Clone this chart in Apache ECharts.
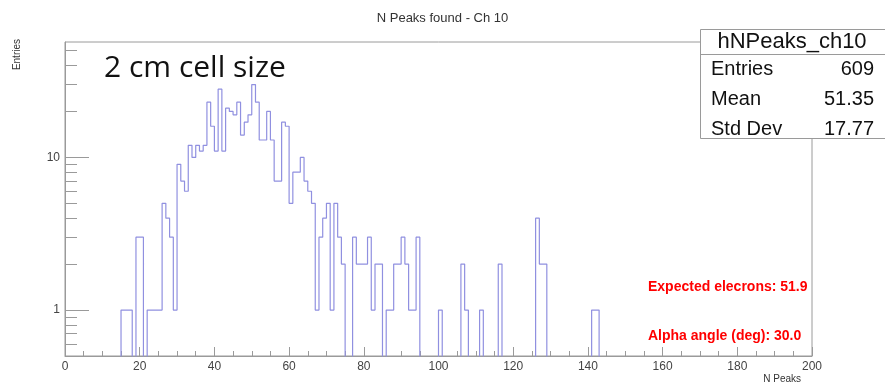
<!DOCTYPE html>
<html>
<head>
<meta charset="utf-8">
<title>N Peaks found - Ch 10</title>
<script src="https://cdn.jsdelivr.net/npm/echarts@6/dist/echarts.min.js"></script>
<style>
  html, body { margin: 0; padding: 0; background: #fff; }
  #chart { width: 885px; height: 384px; }
</style>
</head>
<body>
<div id="chart"></div>
<script>
// histogram contents, one bin per unit of N Peaks, first filled bin is 15
var firstBin = 15;
var counts = [
  1, 1, 1, 0, 3, 3, 0, 1, 1, 1,           // 15-24
  1, 5, 4, 3, 1, 9, 7, 6, 12, 10,         // 25-34
  12, 11, 12, 23, 16, 11, 28, 11, 21, 20, // 35-44
  19, 23, 14, 17, 19, 30, 23, 13, 13, 20, // 45-54
  13, 7, 7, 17, 16, 5, 8, 8, 10, 7,       // 55-64
  6, 5, 1, 3, 4, 5, 1, 5, 3, 2,           // 65-74
  0, 0, 3, 2, 2, 2, 3, 1, 2, 2,           // 75-84
  0, 1, 1, 2, 2, 3, 2, 1, 1, 3,           // 85-94
  0, 0, 0, 0, 0, 1, 0, 0, 0, 0,           // 95-104
  0, 2, 1, 0, 0, 0, 1, 0, 0, 0,           // 105-114
  0, 2, 0, 0, 0, 0, 0, 0, 0, 0,           // 115-124
  0, 4, 2, 2, 0, 0, 0, 0, 0, 0,           // 125-134
  0, 0, 0, 0, 0, 0, 1, 1                  // 135-142
];
var xMin = 0, xMax = 200;
var yMin = 0.5, yMax = 57;
var yLabels = [1, 10];
var yMinorTicks = [0.6, 0.7, 0.8, 0.9, 2, 3, 4, 5, 6, 7, 8, 9, 20, 30, 40, 50];
var statNames = ['Entries', 'Mean', 'Std Dev'];
var statValues = ['609', '51.35', '17.77'];
var notes = ['Expected elecrons: 51.9', 'Alpha angle (deg): 30.0'];

var frameColor = '#9a9a9a';
var textColor = '#444';

// step outline: left edge of each bin, empty bins pushed below the axis so they get clipped
var floorVal = 0.05;
var steps = [];
for (var b = xMin; b < xMax; b++) {
  var c = counts[b - firstBin];
  steps.push([b, c ? c : floorVal]);
}
steps.push([xMax, floorVal]);

var chart = echarts.init(document.getElementById('chart'));
var option = {
  animation: false,
  title: {
    text: 'N Peaks found - Ch 10',
    left: 'center',
    top: 7,
    textStyle: { fontFamily: 'Liberation Sans', fontSize: 13, fontWeight: 'normal', color: '#333' }
  },
  grid: {
    left: 65, right: 73, top: 42, bottom: 28,
    show: true, borderColor: frameColor, borderWidth: 1, backgroundColor: '#fff'
  },
  xAxis: {
    type: 'value',
    min: xMin, max: xMax, interval: 20,
    axisLine: { lineStyle: { color: frameColor } },
    axisTick: { inside: true, length: 9, lineStyle: { color: frameColor } },
    minorTick: { show: true, splitNumber: 4, length: 5, lineStyle: { color: frameColor } },
    axisLabel: { color: textColor, fontFamily: 'Liberation Sans', fontSize: 12, margin: 5 },
    splitLine: { show: false }
  },
  yAxis: [{
    type: 'log', logBase: 10,
    position: 'left',
    min: yMin, max: yMax,
    axisLine: { show: true, lineStyle: { color: frameColor } },
    axisTick: { show: true, inside: true, length: 24, customValues: yLabels, lineStyle: { color: frameColor } },
    axisLabel: {
      customValues: yLabels, color: textColor, fontFamily: 'Liberation Sans', fontSize: 12, margin: 5,
      formatter: function (v) { return String(Math.round(v)); }
    },
    splitLine: { show: false }
  }, {
    // minor ticks of the log axis, same place as the main one
    type: 'log', logBase: 10,
    position: 'left', offset: 0,
    min: yMin, max: yMax,
    axisLine: { show: false },
    axisTick: { show: true, inside: true, length: 12, customValues: yMinorTicks, lineStyle: { color: frameColor } },
    axisLabel: { show: false },
    splitLine: { show: false }
  }],
  series: [{
    type: 'line',
    step: 'end',
    data: steps,
    yAxisIndex: 0,
    symbol: 'none',
    clip: true,
    lineStyle: { color: '#9090e0', width: 1.2 }
  }],
  graphic: [
    {
      type: 'text', x: 17, y: 39, rotation: Math.PI / 2, z: 100,
      style: { text: 'Entries', align: 'right', verticalAlign: 'middle', fill: '#333', font: '10px "Liberation Sans"' }
    },
    {
      type: 'text', x: 801, y: 379, z: 100,
      style: { text: 'N Peaks', align: 'right', verticalAlign: 'middle', fill: '#333', font: '10px "Liberation Sans"' }
    },
    {
      type: 'text', x: 104, y: 68, z: 100,
      style: { text: '2 cm cell size', align: 'left', verticalAlign: 'middle', fill: '#111', font: '30px "Open Sans"' }
    },
    {
      type: 'text', x: 648, y: 287, z: 100,
      style: { text: notes[0], align: 'left', verticalAlign: 'middle', fill: '#ff0000', font: 'bold 14px "Liberation Sans"' }
    },
    {
      type: 'text', x: 648, y: 336, z: 100,
      style: { text: notes[1], align: 'left', verticalAlign: 'middle', fill: '#ff0000', font: 'bold 14px "Liberation Sans"' }
    },
    // stats box
    {
      type: 'rect', z: 100,
      shape: { x: 700.5, y: 29.5, width: 190, height: 109 },
      style: { fill: '#fff', stroke: frameColor, lineWidth: 1 }
    },
    {
      type: 'line', z: 101,
      shape: { x1: 700.5, y1: 54.5, x2: 885, y2: 54.5 },
      style: { stroke: frameColor, lineWidth: 1 }
    },
    {
      type: 'text', x: 792, y: 42, z: 101,
      style: { text: 'hNPeaks_ch10', align: 'center', verticalAlign: 'middle', fill: '#111', font: '22px "Liberation Sans"' }
    }
  ]
};

// stat rows
var rowY = [69, 99, 129];
for (var i = 0; i < statNames.length; i++) {
  option.graphic.push({
    type: 'text', x: 711, y: rowY[i], z: 101,
    style: { text: statNames[i], align: 'left', verticalAlign: 'middle', fill: '#111', font: '20px "Liberation Sans"' }
  });
  option.graphic.push({
    type: 'text', x: 874, y: rowY[i], z: 101,
    style: { text: statValues[i], align: 'right', verticalAlign: 'middle', fill: '#111', font: '20px "Liberation Sans"' }
  });
}

chart.setOption(option);
</script>
</body>
</html>
